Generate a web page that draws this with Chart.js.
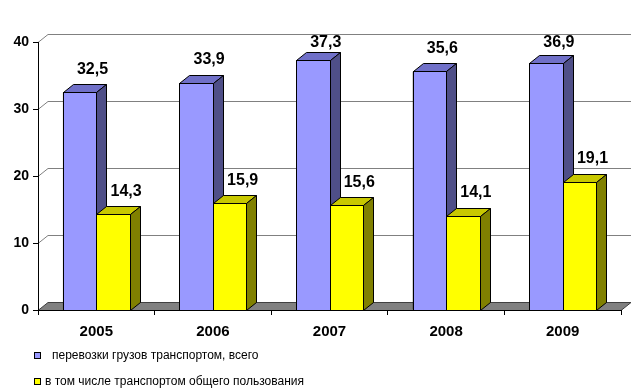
<!DOCTYPE html>
<html>
<head>
<meta charset="utf-8">
<script src="https://cdn.jsdelivr.net/npm/chart.js@4"></script>
<style>
  html, body { margin: 0; padding: 0; background: #fff; }
  #wrap { width: 634px; height: 392px; }
</style>
</head>
<body>
<div id="wrap"><canvas id="chart" width="634" height="392"></canvas></div>
<script>
// данные
const years = ["2005", "2006", "2007", "2008", "2009"];
const totalCargo = [32.5, 33.9, 37.3, 35.6, 36.9];
const publicCargo = [14.3, 15.9, 15.6, 14.1, 19.1];
const seriesNames = [
  "перевозки грузов транспортом, всего",
  "в том числе транспортом общего пользования",
];

const FONT = "'Liberation Sans', Arial, sans-serif";
const DX = 10; // глубина 3D
const DY = -8;

// цвета граней: фронт, верх, бок
const faces = [
  { front: "#9999FF", top: "#7070C8", side: "#4F4F88" },
  { front: "#FFFF00", top: "#C8C800", side: "#808000" },
];

const fmt = (v) => String(v).replace(".", ",");

// задняя стенка: сетка и пол
const wallPlugin = {
  id: "wall3d",
  beforeDraw(chart) {
    const { ctx, chartArea: a, scales } = chart;
    const y = scales.y;
    ctx.save();
    ctx.lineWidth = 1;
    ctx.strokeStyle = "#808080";
    y.ticks.forEach((t) => {
      if (t.value === 0) return;
      const py = Math.round(y.getPixelForValue(t.value)) + 0.5;
      ctx.beginPath();
      ctx.moveTo(a.left, py);
      ctx.lineTo(a.left + DX, py + DY);
      ctx.lineTo(a.right + DX, py + DY);
      ctx.stroke();
    });
    // пол
    const pb = Math.round(a.bottom) + 0.5;
    ctx.fillStyle = "#808080";
    ctx.strokeStyle = "#404040";
    ctx.beginPath();
    ctx.moveTo(a.left, pb);
    ctx.lineTo(a.left + DX, pb + DY);
    ctx.lineTo(a.right + DX, pb + DY);
    ctx.lineTo(a.right, pb);
    ctx.closePath();
    ctx.fill();
    ctx.stroke();
    ctx.restore();
  },
};

// 3D-столбики, подписи и легенда
const barsPlugin = {
  id: "bars3d",
  afterDatasetsDraw(chart) {
    const ctx = chart.ctx;
    ctx.save();
    ctx.lineWidth = 1;
    ctx.strokeStyle = "#000";
    chart.data.datasets.forEach((ds, di) => {
      const meta = chart.getDatasetMeta(di);
      const c = faces[di];
      meta.data.forEach((bar) => {
        const p = bar.getProps(["x", "y", "base", "width"], true);
        const l = Math.round(p.x - p.width / 2) + 0.5;
        const r = Math.round(p.x + p.width / 2) + 0.5;
        const t = Math.round(p.y) + 0.5;
        const b = Math.round(p.base) + 0.5;
        // фронт
        ctx.fillStyle = c.front;
        ctx.fillRect(l, t, r - l, b - t);
        ctx.strokeRect(l, t, r - l, b - t);
        // верх
        ctx.fillStyle = c.top;
        ctx.beginPath();
        ctx.moveTo(l, t);
        ctx.lineTo(l + DX, t + DY);
        ctx.lineTo(r + DX, t + DY);
        ctx.lineTo(r, t);
        ctx.closePath();
        ctx.fill();
        ctx.stroke();
        // бок
        ctx.fillStyle = c.side;
        ctx.beginPath();
        ctx.moveTo(r, t);
        ctx.lineTo(r + DX, t + DY);
        ctx.lineTo(r + DX, b + DY);
        ctx.lineTo(r, b);
        ctx.closePath();
        ctx.fill();
        ctx.stroke();
      });
    });
    // подписи значений
    ctx.fillStyle = "#000";
    ctx.font = "bold 16px " + FONT;
    ctx.textAlign = "center";
    ctx.textBaseline = "middle";
    chart.data.datasets.forEach((ds, di) => {
      const meta = chart.getDatasetMeta(di);
      meta.data.forEach((bar, i) => {
        const p = bar.getProps(["x", "y"], true);
        const ty = Math.max(43, p.y + DY - 15);
        ctx.fillText(fmt(ds.data[i]), p.x + 13, ty);
      });
    });
    ctx.restore();
  },
  afterDraw(chart) {
    const ctx = chart.ctx;
    ctx.save();
    ctx.font = "12px " + FONT;
    ctx.textBaseline = "middle";
    ctx.textAlign = "left";
    const rows = [
      { y: 356, tx: 52 },
      { y: 382, tx: 45 },
    ];
    chart.data.datasets.forEach((ds, di) => {
      const r = rows[di];
      ctx.fillStyle = faces[di].front;
      ctx.fillRect(34.5, r.y - 3.5, 6, 6);
      ctx.strokeStyle = "#000";
      ctx.lineWidth = 1;
      ctx.strokeRect(34.5, r.y - 3.5, 6, 6);
      ctx.fillStyle = "#000";
      ctx.fillText(ds.label, r.tx, r.y);
    });
    ctx.restore();
  },
};

new Chart(document.getElementById("chart"), {
  type: "bar",
  data: {
    labels: years,
    datasets: [
      {
        label: seriesNames[0],
        data: totalCargo,
        backgroundColor: faces[0].front,
        borderColor: "#000",
        borderWidth: 1,
      },
      {
        label: seriesNames[1],
        data: publicCargo,
        backgroundColor: faces[1].front,
        borderColor: "#000",
        borderWidth: 1,
      },
    ],
  },
  options: {
    responsive: false,
    animation: false,
    categoryPercentage: 0.575,
    barPercentage: 1.0,
    layout: { padding: { top: 42, right: 13, left: 0, bottom: 0 } },
    plugins: {
      legend: { display: false },
      tooltip: { enabled: false },
    },
    scales: {
      x: {
        afterFit: (s) => { s.height = 82; },
        grid: {
          offset: true,
          drawOnChartArea: false,
          tickLength: 5,
          color: "#000",
        },
        border: { color: "#000" },
        ticks: {
          padding: 8,
          color: "#000",
          font: { family: FONT, size: 15, weight: "bold" },
        },
      },
      y: {
        min: 0,
        max: 40,
        afterFit: (s) => { s.width = 38; },
        grid: {
          drawOnChartArea: false,
          tickLength: 5,
          color: "#000",
        },
        border: { color: "#000" },
        ticks: {
          stepSize: 10,
          padding: 4,
          color: "#000",
          font: { family: FONT, size: 14, weight: "bold" },
        },
      },
    },
  },
  plugins: [wallPlugin, barsPlugin],
});
</script>
</body>
</html>
